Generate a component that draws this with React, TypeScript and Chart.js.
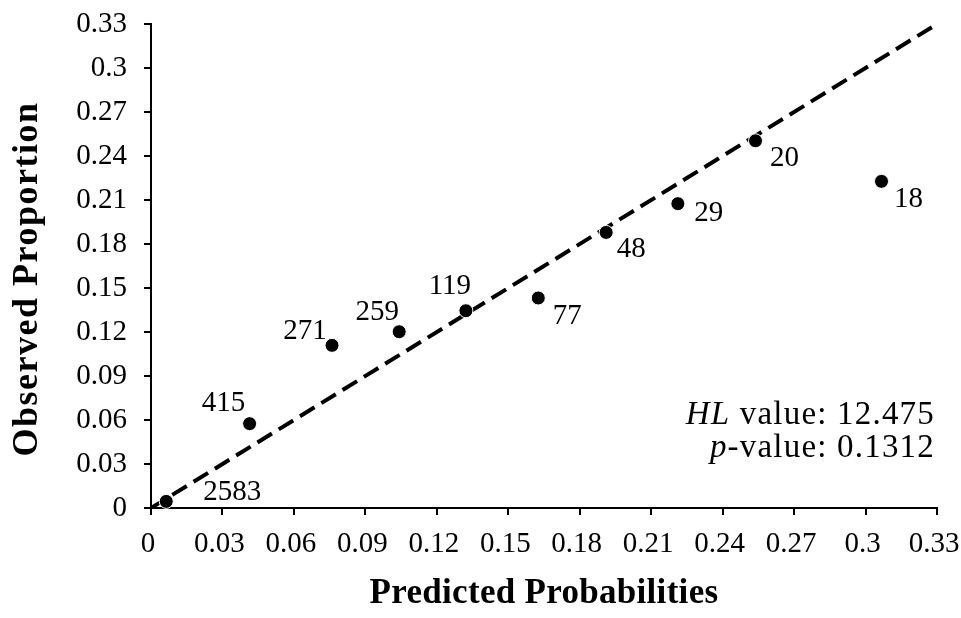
import React, { useEffect, useRef } from 'react';
import { Chart, registerables } from 'chart.js';

Chart.register(...registerables);

// ---- data ----
const predicted = [0.0064, 0.0414, 0.076, 0.1042, 0.1322, 0.1626, 0.1911, 0.2212, 0.2538, 0.3067];
const observed = [0.0045, 0.0575, 0.1109, 0.1202, 0.1345, 0.1432, 0.1879, 0.2075, 0.2504, 0.2227];
const groupSizes = ['2583', '415', '271', '259', '119', '77', '48', '29', '20', '18'];
const refLineX = [0, 0.33];
const refLineY = [0, 0.33];
const tickValues = [0, 0.03, 0.06, 0.09, 0.12, 0.15, 0.18, 0.21, 0.24, 0.27, 0.3, 0.33];
const tickLabels = ['0', '0.03', '0.06', '0.09', '0.12', '0.15', '0.18', '0.21', '0.24', '0.27', '0.3', '0.33'];
const xTitle = 'Predicted Probabilities';
const yTitle = 'Observed Proportion';
const hlValue = '12.475';
const pValue = '0.1312';

// label placement (offset of the count label from its point, px)
const labelDx = [66, -26, -27, -22, -16, 29, 25, 31, 29, 27];
const labelDy = [-9, -20, -14, -19, -24, 18, 17, 10, 18, 18];

const FONT = '"Liberation Serif", "Times New Roman", serif';

const pointLabelPlugin = {
  id: 'pointLabels',
  afterDatasetsDraw(chart: any) {
    const ctx = chart.ctx;
    const meta = chart.getDatasetMeta(0);
    ctx.save();
    ctx.font = `29px ${FONT}`;
    ctx.fillStyle = '#000';
    ctx.textAlign = 'center';
    ctx.textBaseline = 'middle';
    meta.data.forEach((el: any, i: number) => {
      ctx.fillText(groupSizes[i], el.x + labelDx[i], el.y + labelDy[i]);
    });
    ctx.restore();
  },
};

const annotationPlugin = {
  id: 'annot',
  afterDraw(chart: any) {
    const ctx = chart.ctx;
    const area = chart.chartArea;
    ctx.save();
    ctx.fillStyle = '#000';
    ctx.textBaseline = 'middle';
    ctx.textAlign = 'right';
    (ctx as any).letterSpacing = '1.2px';
    const right = area.right - 2;
    const drawPair = (ital: string, rest: string, y: number) => {
      ctx.font = `33px ${FONT}`;
      const w = ctx.measureText(rest).width;
      ctx.fillText(rest, right, y);
      ctx.font = `italic 33px ${FONT}`;
      ctx.fillText(ital, right - w, y);
    };
    drawPair('HL', ' value: ' + hlValue, area.bottom - 93);
    drawPair('p', '-value: ' + pValue, area.bottom - 60);

    // axis titles
    ctx.textAlign = 'center';
    ctx.font = `bold 35px ${FONT}`;
    (ctx as any).letterSpacing = '0.3px';
    ctx.fillText(xTitle, (area.left + area.right) / 2, chart.height - 24);
    ctx.font = `bold 36px ${FONT}`;
    ctx.translate(28, 279);
    ctx.rotate(-Math.PI / 2);
    (ctx as any).letterSpacing = '1.5px';
    ctx.fillText(yTitle, 0, 0);
    ctx.restore();
  },
};

function App() {
  const ref = useRef<HTMLCanvasElement | null>(null);
  useEffect(() => {
    if (!ref.current) return;
    const axisCommon = (isX: boolean) => ({
      type: 'linear' as const,
      min: 0,
      max: 0.33,
      afterBuildTicks: (scale: any) => {
        scale.ticks = tickValues.map((v) => ({ value: v }));
      },
      afterFit: (scale: any) => {
        if (isX) scale.height = 110;
        else scale.width = 151;
        scale.paddingLeft = 0;
        scale.paddingRight = 0;
        scale.paddingTop = 0;
        scale.paddingBottom = 0;
      },
      border: { display: true, color: '#000', width: 2 },
      grid: {
        display: true,
        drawOnChartArea: false,
        drawTicks: true,
        tickLength: 7,
        tickWidth: 2,
        color: '#000',
        lineWidth: 2,
      },
      ticks: {
        autoSkip: false,
        maxRotation: 0,
        minRotation: 0,
        color: '#000',
        font: { family: FONT, size: 29 },
        padding: isX ? 12 : 17,
        labelOffset: isX ? -3 : 0,
        callback: (_v: any, i: number) => tickLabels[i],
      },
      title: { display: false },
    });

    const chart = new Chart(ref.current, {
      type: 'scatter',
      data: {
        datasets: [
          {
            label: 'Groups',
            data: predicted.map((x, i) => ({ x, y: observed[i] })),
            backgroundColor: '#000',
            borderColor: '#fff',
            borderWidth: 1,
            pointRadius: 7,
            pointHoverRadius: 7,
            order: 0,
            clip: false as any,
          },
          {
            type: 'line' as any,
            label: 'Reference',
            data: refLineX.map((x, i) => ({ x, y: refLineY[i] })),
            borderColor: '#000',
            borderWidth: 4,
            borderDash: [17, 8],
            borderCapStyle: 'butt',
            pointRadius: 0,
            fill: false,
            showLine: true,
            order: 1,
          } as any,
        ],
      },
      options: {
        responsive: false,
        animation: false,
        layout: { padding: { left: 0, top: 24, right: 24, bottom: 0 } },
        plugins: {
          legend: { display: false },
          tooltip: { enabled: false },
          title: { display: false },
        },
        scales: {
          x: axisCommon(true) as any,
          y: axisCommon(false) as any,
        },
      },
      plugins: [pointLabelPlugin, annotationPlugin],
    });
    return () => chart.destroy();
  }, []);

  return (
    <div style={{ position: 'fixed', left: 0, top: 0, width: 961, height: 618, background: '#fff' }}>
      <canvas ref={ref} width={961} height={618} style={{ display: 'block' }} />
    </div>
  );
}

export default App;
